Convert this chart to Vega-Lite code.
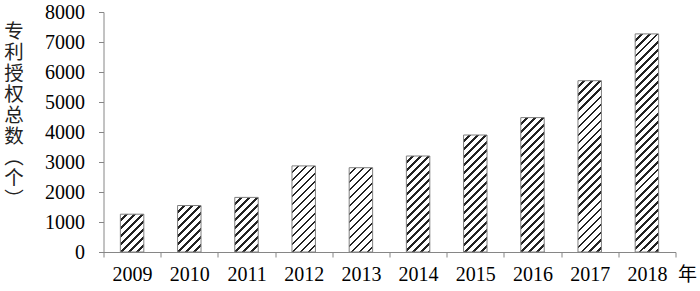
{
"$schema": "https://vega.github.io/schema/vega-lite/v6.json",
"width": 572, "height": 240,
"autosize": {"type": "none"},
"padding": {"left": 103.5, "top": 12, "right": 24.5, "bottom": 39},
"background": "white",
"config": {"view": {"stroke": null}, "axis": {"grid": false, "labelFont": "Liberation Serif", "labelFontSize": 20, "labelColor": "#000"}},
"data": {"values": [
{"year": "2009", "count": 1260},
{"year": "2010", "count": 1550},
{"year": "2011", "count": 1820},
{"year": "2012", "count": 2870},
{"year": "2013", "count": 2810},
{"year": "2014", "count": 3200},
{"year": "2015", "count": 3900},
{"year": "2016", "count": 4480},
{"year": "2017", "count": 5710},
{"year": "2018", "count": 7270}
]},
"mark": {"type": "bar", "width": {"band": 0.41}, "stroke": "#7f7f7f", "strokeWidth": 1},
"encoding": {
"x": {"field": "year", "type": "nominal", "sort": null,
 "scale": {"paddingInner": 0, "paddingOuter": 0},
 "axis": {"title": "年", "labelAngle": 0, "labelFont": "Liberation Serif", "labelFontSize": 20, "labelColor": "#000", "labelPadding": 7,
  "tickBand": "extent", "tickSize": 5, "tickColor": "#868686", "domainColor": "#868686",
  "titleFont": "Noto Sans CJK SC", "titleFontSize": 19, "titleFontWeight": "normal", "titleColor": "#000",
  "titleAngle": 0, "titleX": 574, "titleY": 28, "titleAlign": "left", "titleBaseline": "alphabetic"}},
"y": {"field": "count", "type": "quantitative",
 "scale": {"domain": [0, 8000]},
 "axis": {"title": ["专","利","授","权","总","数","︵","个","︶"], "values": [0,1000,2000,3000,4000,5000,6000,7000,8000], "format": "d",
  "labelFont": "Liberation Serif", "labelFontSize": 20, "labelColor": "#000", "labelPadding": 14,
  "tickSize": 5, "tickColor": "#868686", "domainColor": "#868686",
  "titleFont": "Noto Sans CJK SC", "titleFontSize": 19.5, "titleFontWeight": "normal", "titleColor": "#222",
  "titleAngle": 0, "titleX": -90, "titleY": 10, "titleAlign": "center", "titleBaseline": "top", "titleLineHeight": 21}},
"fill": {"condition": [
{"test": "datum.year==='2009'", "value": {"gradient": "linear", "x1": 0, "y1": 0, "x2": 0.7259, "y2": 1.1701, "stops": [
{"offset":0,"color":"#fff"},
{"offset":0.087,"color":"#fff"},{"offset":0.087,"color":"#222"},{"offset":0.131,"color":"#222"},{"offset":0.131,"color":"#fff"},
{"offset":0.217,"color":"#fff"},{"offset":0.217,"color":"#222"},{"offset":0.261,"color":"#222"},{"offset":0.261,"color":"#fff"},
{"offset":0.348,"color":"#fff"},{"offset":0.348,"color":"#222"},{"offset":0.392,"color":"#222"},{"offset":0.392,"color":"#fff"},
{"offset":0.478,"color":"#fff"},{"offset":0.478,"color":"#222"},{"offset":0.522,"color":"#222"},{"offset":0.522,"color":"#fff"},
{"offset":0.609,"color":"#fff"},{"offset":0.609,"color":"#222"},{"offset":0.653,"color":"#222"},{"offset":0.653,"color":"#fff"},
{"offset":0.740,"color":"#fff"},{"offset":0.740,"color":"#222"},{"offset":0.784,"color":"#222"},{"offset":0.784,"color":"#fff"},
{"offset":0.870,"color":"#fff"},{"offset":0.870,"color":"#222"},{"offset":0.914,"color":"#222"},{"offset":0.914,"color":"#fff"},
{"offset":1,"color":"#fff"}]}},
{"test": "datum.year==='2010'", "value": {"gradient": "linear", "x1": 0, "y1": 0, "x2": 0.6048, "y2": 1.1993, "stops": [
{"offset":0,"color":"#fff"},
{"offset":0.076,"color":"#fff"},{"offset":0.076,"color":"#222"},{"offset":0.114,"color":"#222"},{"offset":0.114,"color":"#fff"},
{"offset":0.190,"color":"#fff"},{"offset":0.190,"color":"#222"},{"offset":0.229,"color":"#222"},{"offset":0.229,"color":"#fff"},
{"offset":0.305,"color":"#fff"},{"offset":0.305,"color":"#222"},{"offset":0.343,"color":"#222"},{"offset":0.343,"color":"#fff"},
{"offset":0.419,"color":"#fff"},{"offset":0.419,"color":"#222"},{"offset":0.458,"color":"#222"},{"offset":0.458,"color":"#fff"},
{"offset":0.533,"color":"#fff"},{"offset":0.533,"color":"#222"},{"offset":0.572,"color":"#222"},{"offset":0.572,"color":"#fff"},
{"offset":0.648,"color":"#fff"},{"offset":0.648,"color":"#222"},{"offset":0.686,"color":"#222"},{"offset":0.686,"color":"#fff"},
{"offset":0.762,"color":"#fff"},{"offset":0.762,"color":"#222"},{"offset":0.801,"color":"#222"},{"offset":0.801,"color":"#fff"},
{"offset":0.876,"color":"#fff"},{"offset":0.876,"color":"#222"},{"offset":0.915,"color":"#222"},{"offset":0.915,"color":"#fff"},
{"offset":0.991,"color":"#fff"},{"offset":0.991,"color":"#222"},{"offset":1,"color":"#222"}]}},
{"test": "datum.year==='2011'", "value": {"gradient": "linear", "x1": 0, "y1": 0, "x2": 0.5183, "y2": 1.2069, "stops": [
{"offset":0,"color":"#fff"},
{"offset":0.068,"color":"#fff"},{"offset":0.068,"color":"#222"},{"offset":0.103,"color":"#222"},{"offset":0.103,"color":"#fff"},
{"offset":0.170,"color":"#fff"},{"offset":0.170,"color":"#222"},{"offset":0.205,"color":"#222"},{"offset":0.205,"color":"#fff"},
{"offset":0.273,"color":"#fff"},{"offset":0.273,"color":"#222"},{"offset":0.308,"color":"#222"},{"offset":0.308,"color":"#fff"},
{"offset":0.375,"color":"#fff"},{"offset":0.375,"color":"#222"},{"offset":0.410,"color":"#222"},{"offset":0.410,"color":"#fff"},
{"offset":0.478,"color":"#fff"},{"offset":0.478,"color":"#222"},{"offset":0.513,"color":"#222"},{"offset":0.513,"color":"#fff"},
{"offset":0.580,"color":"#fff"},{"offset":0.580,"color":"#222"},{"offset":0.615,"color":"#222"},{"offset":0.615,"color":"#fff"},
{"offset":0.683,"color":"#fff"},{"offset":0.683,"color":"#222"},{"offset":0.718,"color":"#222"},{"offset":0.718,"color":"#fff"},
{"offset":0.785,"color":"#fff"},{"offset":0.785,"color":"#222"},{"offset":0.820,"color":"#222"},{"offset":0.820,"color":"#fff"},
{"offset":0.888,"color":"#fff"},{"offset":0.888,"color":"#222"},{"offset":0.923,"color":"#222"},{"offset":0.923,"color":"#fff"},
{"offset":0.990,"color":"#fff"},{"offset":0.990,"color":"#222"},{"offset":1,"color":"#222"}]}},
{"test": "datum.year==='2012'", "value": {"gradient": "linear", "x1": 0, "y1": 0, "x2": 0.3226, "y2": 1.1845, "stops": [
{"offset":0,"color":"#fff"},
{"offset":0.048,"color":"#fff"},{"offset":0.048,"color":"#222"},{"offset":0.073,"color":"#222"},{"offset":0.073,"color":"#fff"},
{"offset":0.121,"color":"#fff"},{"offset":0.121,"color":"#222"},{"offset":0.146,"color":"#222"},{"offset":0.146,"color":"#fff"},
{"offset":0.194,"color":"#fff"},{"offset":0.194,"color":"#222"},{"offset":0.219,"color":"#222"},{"offset":0.219,"color":"#fff"},
{"offset":0.267,"color":"#fff"},{"offset":0.267,"color":"#222"},{"offset":0.292,"color":"#222"},{"offset":0.292,"color":"#fff"},
{"offset":0.341,"color":"#fff"},{"offset":0.341,"color":"#222"},{"offset":0.365,"color":"#222"},{"offset":0.365,"color":"#fff"},
{"offset":0.414,"color":"#fff"},{"offset":0.414,"color":"#222"},{"offset":0.438,"color":"#222"},{"offset":0.438,"color":"#fff"},
{"offset":0.487,"color":"#fff"},{"offset":0.487,"color":"#222"},{"offset":0.511,"color":"#222"},{"offset":0.511,"color":"#fff"},
{"offset":0.560,"color":"#fff"},{"offset":0.560,"color":"#222"},{"offset":0.584,"color":"#222"},{"offset":0.584,"color":"#fff"},
{"offset":0.633,"color":"#fff"},{"offset":0.633,"color":"#222"},{"offset":0.657,"color":"#222"},{"offset":0.657,"color":"#fff"},
{"offset":0.706,"color":"#fff"},{"offset":0.706,"color":"#222"},{"offset":0.730,"color":"#222"},{"offset":0.730,"color":"#fff"},
{"offset":0.779,"color":"#fff"},{"offset":0.779,"color":"#222"},{"offset":0.803,"color":"#222"},{"offset":0.803,"color":"#fff"},
{"offset":0.852,"color":"#fff"},{"offset":0.852,"color":"#222"},{"offset":0.876,"color":"#222"},{"offset":0.876,"color":"#fff"},
{"offset":0.925,"color":"#fff"},{"offset":0.925,"color":"#222"},{"offset":0.949,"color":"#222"},{"offset":0.949,"color":"#fff"},
{"offset":0.998,"color":"#fff"},{"offset":0.998,"color":"#222"},{"offset":1,"color":"#222"}]}},
{"test": "datum.year==='2013'", "value": {"gradient": "linear", "x1": 0, "y1": 0, "x2": 0.3300, "y2": 1.1864, "stops": [
{"offset":0,"color":"#fff"},
{"offset":0.049,"color":"#fff"},{"offset":0.049,"color":"#222"},{"offset":0.074,"color":"#222"},{"offset":0.074,"color":"#fff"},
{"offset":0.123,"color":"#fff"},{"offset":0.123,"color":"#222"},{"offset":0.149,"color":"#222"},{"offset":0.149,"color":"#fff"},
{"offset":0.198,"color":"#fff"},{"offset":0.198,"color":"#222"},{"offset":0.223,"color":"#222"},{"offset":0.223,"color":"#fff"},
{"offset":0.272,"color":"#fff"},{"offset":0.272,"color":"#222"},{"offset":0.297,"color":"#222"},{"offset":0.297,"color":"#fff"},
{"offset":0.346,"color":"#fff"},{"offset":0.346,"color":"#222"},{"offset":0.371,"color":"#222"},{"offset":0.371,"color":"#fff"},
{"offset":0.420,"color":"#fff"},{"offset":0.420,"color":"#222"},{"offset":0.446,"color":"#222"},{"offset":0.446,"color":"#fff"},
{"offset":0.495,"color":"#fff"},{"offset":0.495,"color":"#222"},{"offset":0.520,"color":"#222"},{"offset":0.520,"color":"#fff"},
{"offset":0.569,"color":"#fff"},{"offset":0.569,"color":"#222"},{"offset":0.594,"color":"#222"},{"offset":0.594,"color":"#fff"},
{"offset":0.643,"color":"#fff"},{"offset":0.643,"color":"#222"},{"offset":0.668,"color":"#222"},{"offset":0.668,"color":"#fff"},
{"offset":0.717,"color":"#fff"},{"offset":0.717,"color":"#222"},{"offset":0.743,"color":"#222"},{"offset":0.743,"color":"#fff"},
{"offset":0.792,"color":"#fff"},{"offset":0.792,"color":"#222"},{"offset":0.817,"color":"#222"},{"offset":0.817,"color":"#fff"},
{"offset":0.866,"color":"#fff"},{"offset":0.866,"color":"#222"},{"offset":0.891,"color":"#222"},{"offset":0.891,"color":"#fff"},
{"offset":0.940,"color":"#fff"},{"offset":0.940,"color":"#222"},{"offset":0.965,"color":"#222"},{"offset":0.965,"color":"#fff"},
{"offset":1,"color":"#fff"}]}},
{"test": "datum.year==='2014'", "value": {"gradient": "linear", "x1": 0, "y1": 0, "x2": 0.2868, "y2": 1.1742, "stops": [
{"offset":0,"color":"#fff"},
{"offset":0.044,"color":"#fff"},{"offset":0.044,"color":"#222"},{"offset":0.067,"color":"#222"},{"offset":0.067,"color":"#fff"},
{"offset":0.111,"color":"#fff"},{"offset":0.111,"color":"#222"},{"offset":0.134,"color":"#222"},{"offset":0.134,"color":"#fff"},
{"offset":0.178,"color":"#fff"},{"offset":0.178,"color":"#222"},{"offset":0.201,"color":"#222"},{"offset":0.201,"color":"#fff"},
{"offset":0.245,"color":"#fff"},{"offset":0.245,"color":"#222"},{"offset":0.268,"color":"#222"},{"offset":0.268,"color":"#fff"},
{"offset":0.312,"color":"#fff"},{"offset":0.312,"color":"#222"},{"offset":0.335,"color":"#222"},{"offset":0.335,"color":"#fff"},
{"offset":0.379,"color":"#fff"},{"offset":0.379,"color":"#222"},{"offset":0.402,"color":"#222"},{"offset":0.402,"color":"#fff"},
{"offset":0.446,"color":"#fff"},{"offset":0.446,"color":"#222"},{"offset":0.469,"color":"#222"},{"offset":0.469,"color":"#fff"},
{"offset":0.513,"color":"#fff"},{"offset":0.513,"color":"#222"},{"offset":0.536,"color":"#222"},{"offset":0.536,"color":"#fff"},
{"offset":0.580,"color":"#fff"},{"offset":0.580,"color":"#222"},{"offset":0.603,"color":"#222"},{"offset":0.603,"color":"#fff"},
{"offset":0.647,"color":"#fff"},{"offset":0.647,"color":"#222"},{"offset":0.670,"color":"#222"},{"offset":0.670,"color":"#fff"},
{"offset":0.714,"color":"#fff"},{"offset":0.714,"color":"#222"},{"offset":0.737,"color":"#222"},{"offset":0.737,"color":"#fff"},
{"offset":0.781,"color":"#fff"},{"offset":0.781,"color":"#222"},{"offset":0.804,"color":"#222"},{"offset":0.804,"color":"#fff"},
{"offset":0.848,"color":"#fff"},{"offset":0.848,"color":"#222"},{"offset":0.871,"color":"#222"},{"offset":0.871,"color":"#fff"},
{"offset":0.915,"color":"#fff"},{"offset":0.915,"color":"#222"},{"offset":0.938,"color":"#222"},{"offset":0.938,"color":"#fff"},
{"offset":0.982,"color":"#fff"},{"offset":0.982,"color":"#222"},{"offset":1,"color":"#222"}]}},
{"test": "datum.year==='2015'", "value": {"gradient": "linear", "x1": 0, "y1": 0, "x2": 0.2313, "y2": 1.1541, "stops": [
{"offset":0,"color":"#fff"},
{"offset":0.038,"color":"#fff"},{"offset":0.038,"color":"#222"},{"offset":0.057,"color":"#222"},{"offset":0.057,"color":"#fff"},
{"offset":0.095,"color":"#fff"},{"offset":0.095,"color":"#222"},{"offset":0.114,"color":"#222"},{"offset":0.114,"color":"#fff"},
{"offset":0.152,"color":"#fff"},{"offset":0.152,"color":"#222"},{"offset":0.171,"color":"#222"},{"offset":0.171,"color":"#fff"},
{"offset":0.209,"color":"#fff"},{"offset":0.209,"color":"#222"},{"offset":0.228,"color":"#222"},{"offset":0.228,"color":"#fff"},
{"offset":0.266,"color":"#fff"},{"offset":0.266,"color":"#222"},{"offset":0.285,"color":"#222"},{"offset":0.285,"color":"#fff"},
{"offset":0.323,"color":"#fff"},{"offset":0.323,"color":"#222"},{"offset":0.342,"color":"#222"},{"offset":0.342,"color":"#fff"},
{"offset":0.380,"color":"#fff"},{"offset":0.380,"color":"#222"},{"offset":0.399,"color":"#222"},{"offset":0.399,"color":"#fff"},
{"offset":0.437,"color":"#fff"},{"offset":0.437,"color":"#222"},{"offset":0.456,"color":"#222"},{"offset":0.456,"color":"#fff"},
{"offset":0.493,"color":"#fff"},{"offset":0.493,"color":"#222"},{"offset":0.513,"color":"#222"},{"offset":0.513,"color":"#fff"},
{"offset":0.550,"color":"#fff"},{"offset":0.550,"color":"#222"},{"offset":0.570,"color":"#222"},{"offset":0.570,"color":"#fff"},
{"offset":0.607,"color":"#fff"},{"offset":0.607,"color":"#222"},{"offset":0.627,"color":"#222"},{"offset":0.627,"color":"#fff"},
{"offset":0.664,"color":"#fff"},{"offset":0.664,"color":"#222"},{"offset":0.684,"color":"#222"},{"offset":0.684,"color":"#fff"},
{"offset":0.721,"color":"#fff"},{"offset":0.721,"color":"#222"},{"offset":0.741,"color":"#222"},{"offset":0.741,"color":"#fff"},
{"offset":0.778,"color":"#fff"},{"offset":0.778,"color":"#222"},{"offset":0.797,"color":"#222"},{"offset":0.797,"color":"#fff"},
{"offset":0.835,"color":"#fff"},{"offset":0.835,"color":"#222"},{"offset":0.854,"color":"#222"},{"offset":0.854,"color":"#fff"},
{"offset":0.892,"color":"#fff"},{"offset":0.892,"color":"#222"},{"offset":0.911,"color":"#222"},{"offset":0.911,"color":"#fff"},
{"offset":0.949,"color":"#fff"},{"offset":0.949,"color":"#222"},{"offset":0.968,"color":"#222"},{"offset":0.968,"color":"#fff"},
{"offset":1,"color":"#fff"}]}},
{"test": "datum.year==='2016'", "value": {"gradient": "linear", "x1": 0, "y1": 0, "x2": 0.1989, "y2": 1.1398, "stops": [
{"offset":0,"color":"#fff"},
{"offset":0.034,"color":"#fff"},{"offset":0.034,"color":"#222"},{"offset":0.051,"color":"#222"},{"offset":0.051,"color":"#fff"},
{"offset":0.084,"color":"#fff"},{"offset":0.084,"color":"#222"},{"offset":0.101,"color":"#222"},{"offset":0.101,"color":"#fff"},
{"offset":0.135,"color":"#fff"},{"offset":0.135,"color":"#222"},{"offset":0.152,"color":"#222"},{"offset":0.152,"color":"#fff"},
{"offset":0.186,"color":"#fff"},{"offset":0.186,"color":"#222"},{"offset":0.203,"color":"#222"},{"offset":0.203,"color":"#fff"},
{"offset":0.236,"color":"#fff"},{"offset":0.236,"color":"#222"},{"offset":0.253,"color":"#222"},{"offset":0.253,"color":"#fff"},
{"offset":0.287,"color":"#fff"},{"offset":0.287,"color":"#222"},{"offset":0.304,"color":"#222"},{"offset":0.304,"color":"#fff"},
{"offset":0.338,"color":"#fff"},{"offset":0.338,"color":"#222"},{"offset":0.355,"color":"#222"},{"offset":0.355,"color":"#fff"},
{"offset":0.388,"color":"#fff"},{"offset":0.388,"color":"#222"},{"offset":0.405,"color":"#222"},{"offset":0.405,"color":"#fff"},
{"offset":0.439,"color":"#fff"},{"offset":0.439,"color":"#222"},{"offset":0.456,"color":"#222"},{"offset":0.456,"color":"#fff"},
{"offset":0.490,"color":"#fff"},{"offset":0.490,"color":"#222"},{"offset":0.507,"color":"#222"},{"offset":0.507,"color":"#fff"},
{"offset":0.540,"color":"#fff"},{"offset":0.540,"color":"#222"},{"offset":0.558,"color":"#222"},{"offset":0.558,"color":"#fff"},
{"offset":0.591,"color":"#fff"},{"offset":0.591,"color":"#222"},{"offset":0.608,"color":"#222"},{"offset":0.608,"color":"#fff"},
{"offset":0.642,"color":"#fff"},{"offset":0.642,"color":"#222"},{"offset":0.659,"color":"#222"},{"offset":0.659,"color":"#fff"},
{"offset":0.692,"color":"#fff"},{"offset":0.692,"color":"#222"},{"offset":0.710,"color":"#222"},{"offset":0.710,"color":"#fff"},
{"offset":0.743,"color":"#fff"},{"offset":0.743,"color":"#222"},{"offset":0.760,"color":"#222"},{"offset":0.760,"color":"#fff"},
{"offset":0.794,"color":"#fff"},{"offset":0.794,"color":"#222"},{"offset":0.811,"color":"#222"},{"offset":0.811,"color":"#fff"},
{"offset":0.845,"color":"#fff"},{"offset":0.845,"color":"#222"},{"offset":0.862,"color":"#222"},{"offset":0.862,"color":"#fff"},
{"offset":0.895,"color":"#fff"},{"offset":0.895,"color":"#222"},{"offset":0.912,"color":"#222"},{"offset":0.912,"color":"#fff"},
{"offset":0.946,"color":"#fff"},{"offset":0.946,"color":"#222"},{"offset":0.963,"color":"#222"},{"offset":0.963,"color":"#fff"},
{"offset":0.997,"color":"#fff"},{"offset":0.997,"color":"#222"},{"offset":1,"color":"#222"}]}},
{"test": "datum.year==='2017'", "value": {"gradient": "linear", "x1": 0, "y1": 0, "x2": 0.1528, "y2": 1.1160, "stops": [
{"offset":0,"color":"#fff"},
{"offset":0.027,"color":"#fff"},{"offset":0.027,"color":"#222"},{"offset":0.041,"color":"#222"},{"offset":0.041,"color":"#fff"},
{"offset":0.068,"color":"#fff"},{"offset":0.068,"color":"#222"},{"offset":0.082,"color":"#222"},{"offset":0.082,"color":"#fff"},
{"offset":0.109,"color":"#fff"},{"offset":0.109,"color":"#222"},{"offset":0.123,"color":"#222"},{"offset":0.123,"color":"#fff"},
{"offset":0.150,"color":"#fff"},{"offset":0.150,"color":"#222"},{"offset":0.164,"color":"#222"},{"offset":0.164,"color":"#fff"},
{"offset":0.192,"color":"#fff"},{"offset":0.192,"color":"#222"},{"offset":0.205,"color":"#222"},{"offset":0.205,"color":"#fff"},
{"offset":0.233,"color":"#fff"},{"offset":0.233,"color":"#222"},{"offset":0.247,"color":"#222"},{"offset":0.247,"color":"#fff"},
{"offset":0.274,"color":"#fff"},{"offset":0.274,"color":"#222"},{"offset":0.288,"color":"#222"},{"offset":0.288,"color":"#fff"},
{"offset":0.315,"color":"#fff"},{"offset":0.315,"color":"#222"},{"offset":0.329,"color":"#222"},{"offset":0.329,"color":"#fff"},
{"offset":0.356,"color":"#fff"},{"offset":0.356,"color":"#222"},{"offset":0.370,"color":"#222"},{"offset":0.370,"color":"#fff"},
{"offset":0.397,"color":"#fff"},{"offset":0.397,"color":"#222"},{"offset":0.411,"color":"#222"},{"offset":0.411,"color":"#fff"},
{"offset":0.438,"color":"#fff"},{"offset":0.438,"color":"#222"},{"offset":0.452,"color":"#222"},{"offset":0.452,"color":"#fff"},
{"offset":0.479,"color":"#fff"},{"offset":0.479,"color":"#222"},{"offset":0.493,"color":"#222"},{"offset":0.493,"color":"#fff"},
{"offset":0.520,"color":"#fff"},{"offset":0.520,"color":"#222"},{"offset":0.534,"color":"#222"},{"offset":0.534,"color":"#fff"},
{"offset":0.561,"color":"#fff"},{"offset":0.561,"color":"#222"},{"offset":0.575,"color":"#222"},{"offset":0.575,"color":"#fff"},
{"offset":0.602,"color":"#fff"},{"offset":0.602,"color":"#222"},{"offset":0.616,"color":"#222"},{"offset":0.616,"color":"#fff"},
{"offset":0.643,"color":"#fff"},{"offset":0.643,"color":"#222"},{"offset":0.657,"color":"#222"},{"offset":0.657,"color":"#fff"},
{"offset":0.684,"color":"#fff"},{"offset":0.684,"color":"#222"},{"offset":0.698,"color":"#222"},{"offset":0.698,"color":"#fff"},
{"offset":0.726,"color":"#fff"},{"offset":0.726,"color":"#222"},{"offset":0.739,"color":"#222"},{"offset":0.739,"color":"#fff"},
{"offset":0.767,"color":"#fff"},{"offset":0.767,"color":"#222"},{"offset":0.781,"color":"#222"},{"offset":0.781,"color":"#fff"},
{"offset":0.808,"color":"#fff"},{"offset":0.808,"color":"#222"},{"offset":0.822,"color":"#222"},{"offset":0.822,"color":"#fff"},
{"offset":0.849,"color":"#fff"},{"offset":0.849,"color":"#222"},{"offset":0.863,"color":"#222"},{"offset":0.863,"color":"#fff"},
{"offset":0.890,"color":"#fff"},{"offset":0.890,"color":"#222"},{"offset":0.904,"color":"#222"},{"offset":0.904,"color":"#fff"},
{"offset":0.931,"color":"#fff"},{"offset":0.931,"color":"#222"},{"offset":0.945,"color":"#222"},{"offset":0.945,"color":"#fff"},
{"offset":0.972,"color":"#fff"},{"offset":0.972,"color":"#222"},{"offset":0.986,"color":"#222"},{"offset":0.986,"color":"#fff"},
{"offset":1,"color":"#fff"}]}},
{"test": "datum.year==='2018'", "value": {"gradient": "linear", "x1": 0, "y1": 0, "x2": 0.1177, "y2": 1.0949, "stops": [
{"offset":0,"color":"#fff"},
{"offset":0.022,"color":"#fff"},{"offset":0.022,"color":"#222"},{"offset":0.033,"color":"#222"},{"offset":0.033,"color":"#fff"},
{"offset":0.055,"color":"#fff"},{"offset":0.055,"color":"#222"},{"offset":0.066,"color":"#222"},{"offset":0.066,"color":"#fff"},
{"offset":0.088,"color":"#fff"},{"offset":0.088,"color":"#222"},{"offset":0.099,"color":"#222"},{"offset":0.099,"color":"#fff"},
{"offset":0.121,"color":"#fff"},{"offset":0.121,"color":"#222"},{"offset":0.133,"color":"#222"},{"offset":0.133,"color":"#fff"},
{"offset":0.154,"color":"#fff"},{"offset":0.154,"color":"#222"},{"offset":0.166,"color":"#222"},{"offset":0.166,"color":"#fff"},
{"offset":0.188,"color":"#fff"},{"offset":0.188,"color":"#222"},{"offset":0.199,"color":"#222"},{"offset":0.199,"color":"#fff"},
{"offset":0.221,"color":"#fff"},{"offset":0.221,"color":"#222"},{"offset":0.232,"color":"#222"},{"offset":0.232,"color":"#fff"},
{"offset":0.254,"color":"#fff"},{"offset":0.254,"color":"#222"},{"offset":0.265,"color":"#222"},{"offset":0.265,"color":"#fff"},
{"offset":0.287,"color":"#fff"},{"offset":0.287,"color":"#222"},{"offset":0.298,"color":"#222"},{"offset":0.298,"color":"#fff"},
{"offset":0.320,"color":"#fff"},{"offset":0.320,"color":"#222"},{"offset":0.331,"color":"#222"},{"offset":0.331,"color":"#fff"},
{"offset":0.353,"color":"#fff"},{"offset":0.353,"color":"#222"},{"offset":0.364,"color":"#222"},{"offset":0.364,"color":"#fff"},
{"offset":0.386,"color":"#fff"},{"offset":0.386,"color":"#222"},{"offset":0.397,"color":"#222"},{"offset":0.397,"color":"#fff"},
{"offset":0.419,"color":"#fff"},{"offset":0.419,"color":"#222"},{"offset":0.431,"color":"#222"},{"offset":0.431,"color":"#fff"},
{"offset":0.453,"color":"#fff"},{"offset":0.453,"color":"#222"},{"offset":0.464,"color":"#222"},{"offset":0.464,"color":"#fff"},
{"offset":0.486,"color":"#fff"},{"offset":0.486,"color":"#222"},{"offset":0.497,"color":"#222"},{"offset":0.497,"color":"#fff"},
{"offset":0.519,"color":"#fff"},{"offset":0.519,"color":"#222"},{"offset":0.530,"color":"#222"},{"offset":0.530,"color":"#fff"},
{"offset":0.552,"color":"#fff"},{"offset":0.552,"color":"#222"},{"offset":0.563,"color":"#222"},{"offset":0.563,"color":"#fff"},
{"offset":0.585,"color":"#fff"},{"offset":0.585,"color":"#222"},{"offset":0.596,"color":"#222"},{"offset":0.596,"color":"#fff"},
{"offset":0.618,"color":"#fff"},{"offset":0.618,"color":"#222"},{"offset":0.629,"color":"#222"},{"offset":0.629,"color":"#fff"},
{"offset":0.651,"color":"#fff"},{"offset":0.651,"color":"#222"},{"offset":0.662,"color":"#222"},{"offset":0.662,"color":"#fff"},
{"offset":0.684,"color":"#fff"},{"offset":0.684,"color":"#222"},{"offset":0.696,"color":"#222"},{"offset":0.696,"color":"#fff"},
{"offset":0.717,"color":"#fff"},{"offset":0.717,"color":"#222"},{"offset":0.729,"color":"#222"},{"offset":0.729,"color":"#fff"},
{"offset":0.751,"color":"#fff"},{"offset":0.751,"color":"#222"},{"offset":0.762,"color":"#222"},{"offset":0.762,"color":"#fff"},
{"offset":0.784,"color":"#fff"},{"offset":0.784,"color":"#222"},{"offset":0.795,"color":"#222"},{"offset":0.795,"color":"#fff"},
{"offset":0.817,"color":"#fff"},{"offset":0.817,"color":"#222"},{"offset":0.828,"color":"#222"},{"offset":0.828,"color":"#fff"},
{"offset":0.850,"color":"#fff"},{"offset":0.850,"color":"#222"},{"offset":0.861,"color":"#222"},{"offset":0.861,"color":"#fff"},
{"offset":0.883,"color":"#fff"},{"offset":0.883,"color":"#222"},{"offset":0.894,"color":"#222"},{"offset":0.894,"color":"#fff"},
{"offset":0.916,"color":"#fff"},{"offset":0.916,"color":"#222"},{"offset":0.927,"color":"#222"},{"offset":0.927,"color":"#fff"},
{"offset":0.949,"color":"#fff"},{"offset":0.949,"color":"#222"},{"offset":0.961,"color":"#222"},{"offset":0.961,"color":"#fff"},
{"offset":0.982,"color":"#fff"},{"offset":0.982,"color":"#222"},{"offset":0.994,"color":"#222"},{"offset":0.994,"color":"#fff"},
{"offset":1,"color":"#fff"}]}}
], "value": "#fff"}
}
}
